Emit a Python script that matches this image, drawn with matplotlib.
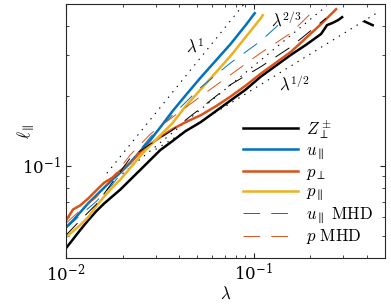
import numpy as np
import matplotlib
matplotlib.use('Agg')
import matplotlib.pyplot as plt

plt.rcParams['mathtext.fontset'] = 'cm'
plt.rcParams['font.family'] = 'serif'
plt.rcParams['font.serif'] = ['DejaVu Serif']
plt.rcParams['lines.scale_dashes'] = False

# lambda grid shared by most curves
lam = np.array([0.0100, 0.0109, 0.01188, 0.01311, 0.01447, 0.01597, 0.01762, 0.01944,
                0.02199, 0.02488, 0.02813, 0.03182, 0.03688, 0.04329, 0.05208, 0.06265,
                0.07534, 0.09063, 0.1090, 0.1311, 0.1577, 0.1897, 0.2282, 0.2745])

# Z_perp (black)
lam_z = np.concatenate([lam[:23], [0.2457, 0.2613, 0.2813, 0.2955, np.nan, 0.39, 0.43]])
ell_z = [0.0441, 0.0482, 0.0527, 0.0581, 0.0636, 0.0688, 0.0737, 0.0789, 0.0871, 0.0961,
         0.1061, 0.1171, 0.1279, 0.1412, 0.1543, 0.1720, 0.1917, 0.2136, 0.2428, 0.2706,
         0.3016, 0.3330, 0.3710, 0.4054, 0.4134, 0.4259, 0.4386, np.nan, 0.420, 0.405]

# p_perp (red)
ell_pperp = [0.0581, 0.0648, 0.0674, 0.0722, 0.0782, 0.0846, 0.0888, 0.0952, 0.1030, 0.1148,
             0.1242, 0.1331, 0.1440, 0.1543, 0.1653, 0.1806, 0.1994, 0.2222, 0.2501, 0.2787,
             0.3107, 0.3566, 0.4094, 0.4748]

# u_par (blue)
lam_u = np.concatenate([lam[:18], [0.1012]])
ell_u = [0.0543, 0.0581, 0.0629, 0.0688, 0.0744, 0.0805, 0.0871, 0.0933, 0.1030, 0.1159,
         0.1292, 0.1469, 0.1720, 0.2013, 0.2404, 0.2843, 0.3362, 0.4054, 0.4563]

# p_par (yellow)
lam_ppar = np.concatenate([lam[:19], [0.1117]])
ell_ppar = [0.0492, 0.0522, 0.0554, 0.0599, 0.0668, 0.0737, 0.0805, 0.0871, 0.0980, 0.1104,
            0.1230, 0.1357, 0.1528, 0.1806, 0.2136, 0.2526, 0.2987, 0.3602, 0.4343, 0.4474]

# MHD runs (thin dashed)
lam_mhd = np.array([0.0100, 0.01188, 0.01447, 0.01762, 0.02199, 0.02813, 0.03688,
                    0.05208, 0.07534, 0.1090])
ell_u_mhd = [0.0538, 0.0611, 0.0701, 0.0829, 0.1040, 0.1331, 0.1653, 0.2179, 0.2787, 0.3462]
lam_u_mhd_end = 0.1483
ell_u_mhd_end = 0.4343
ell_p_mhd = [0.0565, 0.0642, 0.0730, 0.0888, 0.1115, 0.1371, 0.1621, 0.1994, 0.2476, 0.3076]
lam_p_mhd_end = [0.1577, 0.2120]
ell_p_mhd_end = [0.3747, 0.4748]
ell_z_mhd = [0.0502, 0.0581, 0.0681, 0.0846, 0.1082, 0.1242, 0.1426, 0.1771, 0.2244, 0.2679]
lam_z_mhd_end = [0.1577, 0.2427]
ell_z_mhd_end = [0.3264, 0.4343]

blue = '#0072BD'
red = '#D95319'
yellow = '#EDB120'

fig = plt.figure(figsize=(3.91, 3.07), dpi=100)
ax = fig.add_axes([66/391, 49/307, 319/391, 254/307])

# reference slopes
dot = (0, (1, 4))
l1 = np.array([0.0165, 0.089])
ax.plot(l1, 5.63 * l1, color='k', lw=0.8, ls=dot)
l23 = np.array([0.02, 0.245])
ax.plot(l23, 1.255 * l23**(2/3), color='k', lw=0.8, ls=dot)
l12 = np.array([0.03, 0.45])
ax.plot(l12, 0.68 * l12**0.5, color='k', lw=0.8, ls=dot)

ax.plot(lam_z, ell_z, color='k', lw=1.8, label=r'$Z_\perp^\pm$')
ax.plot(lam_u, ell_u, color=blue, lw=1.8, label=r'$u_\parallel$')
ax.plot(lam, ell_pperp, color=red, lw=1.8, label=r'$p_\perp$')
ax.plot(lam_ppar, ell_ppar, color=yellow, lw=1.8, label=r'$p_\parallel$')

dash = (0, (12, 8))
ax.plot(np.append(lam_mhd, lam_u_mhd_end), ell_u_mhd + [ell_u_mhd_end], color=blue, lw=0.7,
        ls=dash, label=r'$u_\parallel\ \mathrm{MHD}$')
ax.plot(np.append(lam_mhd, lam_p_mhd_end), ell_p_mhd + ell_p_mhd_end, color=red, lw=0.7,
        ls=dash, label=r'$p\ \mathrm{MHD}$')
ax.plot(np.append(lam_mhd, lam_z_mhd_end), ell_z_mhd + ell_z_mhd_end, color='k', lw=0.7,
        ls=dash)

ax.text(0.049, 0.323, r'$\lambda^1$', fontsize=12, ha='center', va='center')
ax.text(0.150, 0.426, r'$\lambda^{2/3}$', fontsize=12, ha='center', va='center')
ax.text(0.164, 0.224, r'$\lambda^{1/2}$', fontsize=12, ha='center', va='center')

ax.set_xscale('log')
ax.set_yscale('log')
ax.set_xlim(0.01, 0.5)
ax.set_ylim(0.04, 0.5)
ax.set_xlabel(r'$\lambda$', fontsize=12, labelpad=1)
ax.set_ylabel(r'$\ell_\parallel$', fontsize=12, va='center')
ax.yaxis.set_label_coords(-0.125, 0.5)
ax.tick_params(which='both', direction='in', top=True, right=True, labelsize=12,
               color='0.15')
ax.tick_params(which='major', length=3.5)
ax.tick_params(which='minor', length=2)
for s in ax.spines.values():
    s.set_color('0.15')
    s.set_linewidth(0.8)

ax.legend(loc='lower right', frameon=False, fontsize=12, handlelength=3.3,
          labelspacing=0.1, borderaxespad=0.3, handletextpad=0.5)

fig.savefig('out.png', dpi=100)
